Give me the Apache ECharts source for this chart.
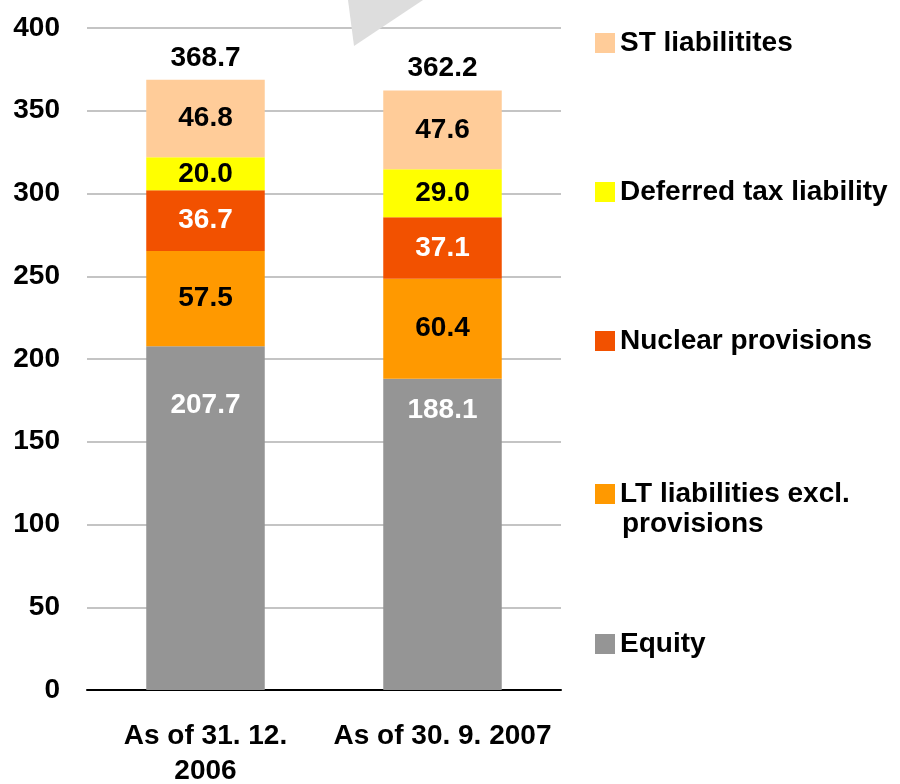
<!DOCTYPE html>
<html>
<head>
<meta charset="utf-8">
<script src="https://cdn.jsdelivr.net/npm/echarts@6/dist/echarts.min.js"></script>
<style>
  html, body { margin: 0; padding: 0; background: #fff; }
  #chart { width: 900px; height: 784px; }
</style>
</head>
<body>
<div id="chart"></div>
<script>
// data
const categories = ['As of 31. 12.\n2006', 'As of 30. 9. 2007']
const seriesNames = ['Equity', 'LT liabilities excl. provisions', 'Nuclear provisions', 'Deferred tax liability', 'ST liabilitites']
const equity = [207.7, 188.1]
const ltLiabilities = [57.5, 60.4]
const nuclearProvisions = [36.7, 37.1]
const deferredTax = [20.0, 29.0]
const stLiabilities = [46.8, 47.6]
const yTicks = { min: 0, max: 400, interval: 50 }

const font = '"Liberation Sans", Arial, sans-serif'
const fs = 28
const colors = ['#959595', '#FF9900', '#F25100', '#FFFF00', '#FFCC99']
const labelColors = ['#fff', '#000', '#fff', '#000', '#000']
const values = [equity, ltLiabilities, nuclearProvisions, deferredTax, stLiabilities]
const totals = categories.map((c, i) => values.reduce((s, arr) => s + arr[i], 0))

// the equity labels sit near the top of the grey block, not in its middle
const equityLabelGap = [45, 18]

const chart = echarts.init(document.getElementById('chart'))

const series = values.map((arr, k) => ({
  name: seriesNames[k],
  type: 'bar',
  stack: 'total',
  barWidth: '50%',
  itemStyle: { color: colors[k] },
  label: {
    show: true,
    position: 'inside',
    color: labelColors[k],
    fontFamily: font,
    fontWeight: 'bold',
    fontSize: fs,
    formatter: p => p.value.toFixed(1)
  },
  data: arr.map((v, i) => k === 0
    ? { value: v, label: { position: 'insideTop', distance: equityLabelGap[i] } }
    : v)
}))

series.push({
  name: 'Total',
  type: 'bar',
  barWidth: '50%',
  barGap: '-100%',
  itemStyle: { color: 'rgba(0,0,0,0)' },
  label: {
    show: true,
    position: 'top',
    distance: 8,
    color: '#000',
    fontFamily: font,
    fontWeight: 'bold',
    fontSize: fs,
    formatter: p => p.value.toFixed(1)
  },
  silent: true,
  z: 1,
  data: totals
})

// legend entries, top to bottom, with the centre of each square
const legendRows = [
  { name: 'ST liabilitites', y: 39 },
  { name: 'Deferred tax liability', y: 188 },
  { name: 'Nuclear provisions', y: 337 },
  { name: 'LT liabilities excl. provisions', y: 490 },
  { name: 'Equity', y: 640 }
]

const legends = legendRows.map(r => ({
  data: [r.name],
  left: 590,
  top: r.y - 15,
  orient: 'vertical',
  itemWidth: 20,
  itemHeight: 20,
  itemGap: 0,
  icon: 'rect',
  selectedMode: false,
  formatter: n => n === 'LT liabilities excl. provisions' ? 'LT liabilities excl.' : n,
  textStyle: { fontFamily: font, fontWeight: 'bold', fontSize: fs, color: '#000' }
}))

const option = {
  animation: false,
  backgroundColor: '#fff',
  grid: { left: 87, right: 339, top: 28, bottom: 94, outerBoundsMode: 'none' },
  legend: legends,
  xAxis: {
    type: 'category',
    data: categories,
    axisLine: { lineStyle: { color: '#000', width: 2 } },
    axisTick: { show: false },
    axisLabel: {
      interval: 0,
      margin: 29,
      color: '#000',
      fontFamily: font,
      fontWeight: 'bold',
      fontSize: fs,
      lineHeight: 35
    }
  },
  yAxis: {
    type: 'value',
    min: yTicks.min,
    max: yTicks.max,
    interval: yTicks.interval,
    axisLine: { show: false },
    axisTick: { show: false },
    splitLine: { lineStyle: { color: '#C4C4C4', width: 2 } },
    axisLabel: {
      margin: 27,
      color: '#000',
      fontFamily: font,
      fontWeight: 'bold',
      fontSize: fs
    }
  },
  graphic: [
    {
      type: 'polygon',
      z: 100,
      shape: { points: [[348, 0], [423, 0], [354, 46]] },
      style: { fill: '#DDDDDD' }
    },
    {
      type: 'text',
      left: 622,
      top: 510,
      z: 100,
      style: {
        text: 'provisions',
        fill: '#000',
        font: 'bold ' + fs + 'px ' + font
      }
    }
  ],
  series: series
}

chart.setOption(option)
</script>
</body>
</html>
